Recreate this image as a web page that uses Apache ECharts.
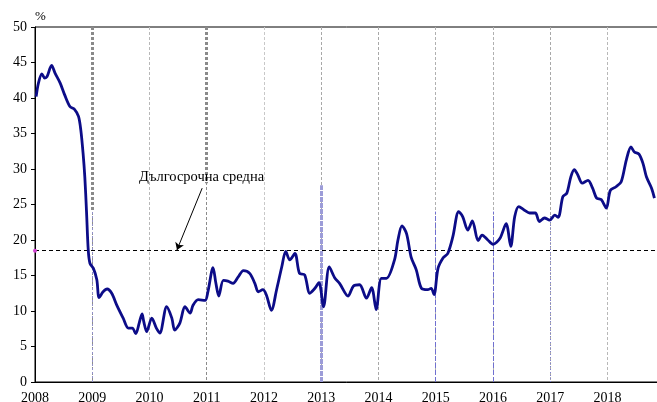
<!DOCTYPE html>
<html>
<head>
<meta charset="utf-8">
<script src="https://cdn.jsdelivr.net/npm/echarts@6/dist/echarts.min.js"></script>
<style>
  html, body { margin: 0; padding: 0; background: #fff; }
  #chart { width: 657px; height: 402px; }
</style>
</head>
<body>
<div id="chart"></div>
<script>
// време (дробна година) и стойност в %
const years = [
  2008.02, 2008.06, 2008.12, 2008.17, 2008.21, 2008.29, 2008.35, 2008.44, 2008.52, 2008.61,
  2008.69, 2008.76, 2008.80, 2008.84, 2008.87, 2008.90, 2008.93, 2008.96, 2009.02, 2009.08,
  2009.12, 2009.19, 2009.26, 2009.34, 2009.43, 2009.54, 2009.63, 2009.70, 2009.76, 2009.82,
  2009.87, 2009.90, 2009.95, 2010.04, 2010.12, 2010.18, 2010.30, 2010.39, 2010.44, 2010.53,
  2010.62, 2010.71, 2010.76, 2010.85, 2010.97, 2011.02, 2011.11, 2011.16, 2011.21, 2011.29,
  2011.37, 2011.46, 2011.55, 2011.64, 2011.75, 2011.84, 2011.90, 2011.98, 2012.04, 2012.13,
  2012.22, 2012.31, 2012.38, 2012.45, 2012.54, 2012.62, 2012.71, 2012.80, 2012.89, 2012.96,
  2013.04, 2013.14, 2013.24, 2013.32, 2013.47, 2013.56, 2013.67, 2013.79, 2013.88, 2013.96,
  2014.05, 2014.14, 2014.28, 2014.34, 2014.41, 2014.49, 2014.57, 2014.66, 2014.75, 2014.86,
  2014.92, 2014.97, 2015.04, 2015.13, 2015.21, 2015.30, 2015.40, 2015.47, 2015.56, 2015.64,
  2015.74, 2015.81, 2015.91, 2016.00, 2016.12, 2016.23, 2016.31, 2016.38, 2016.45, 2016.55,
  2016.64, 2016.74, 2016.81, 2016.90, 2016.99, 2017.08, 2017.14, 2017.22, 2017.29, 2017.36,
  2017.42, 2017.48, 2017.56, 2017.66, 2017.74, 2017.81, 2017.89, 2017.98, 2018.05, 2018.15,
  2018.24, 2018.33, 2018.41, 2018.47, 2018.55, 2018.62, 2018.68, 2018.77, 2018.82
];
const rates = [
  40.2, 42.1, 43.4, 42.8, 43.0, 44.6, 43.5, 42.1, 40.4, 38.8,
  38.4, 37.4, 35.5, 32.2, 28.9, 24.0, 18.6, 16.7, 16.0, 14.4,
  11.9, 12.7, 13.1, 12.5, 10.8, 9.0, 7.6, 7.6, 6.8, 8.3,
  9.6, 8.5, 7.1, 9.0, 7.6, 6.9, 10.6, 9.0, 7.3, 8.3,
  10.6, 9.7, 10.8, 11.6, 11.5, 12.7, 16.1, 13.9, 12.1, 14.3,
  14.2, 13.9, 14.8, 15.7, 15.3, 13.9, 12.7, 13.0, 12.3, 10.1,
  13.0, 16.2, 18.4, 17.2, 18.1, 15.3, 15.1, 12.5, 13.2, 14.0,
  10.6, 16.2, 14.6, 13.9, 12.1, 13.5, 13.7, 11.8, 13.3, 10.2,
  14.6, 14.6, 17.2, 20.0, 22.0, 20.9, 17.6, 15.8, 13.2, 13.0,
  13.2, 12.3, 16.0, 17.5, 18.1, 20.5, 24.0, 23.3, 21.4, 22.7,
  19.9, 20.7, 20.0, 19.4, 20.2, 22.3, 19.1, 23.3, 24.7, 24.2,
  23.8, 23.8, 22.6, 23.1, 22.8, 23.5, 23.2, 26.1, 26.6, 28.9,
  29.9, 29.2, 28.0, 28.4, 27.3, 25.9, 25.7, 24.5, 27.0, 27.5,
  28.2, 31.3, 33.1, 32.4, 32.1, 30.8, 28.9, 27.3, 25.9
];
const longTermAvg = 18.5;
const avgLabel = 'Дългосрочна средна';

const serif = 'Liberation Serif';
const chart = echarts.init(document.getElementById('chart'));

const option = {
  animation: false,
  grid: {
    left: 35, right: -2, top: 27, bottom: 20,
    outerBoundsMode: 'none',
    show: true, borderColor: '#000', borderWidth: 1
  },
  xAxis: {
    type: 'value',
    min: 2008, max: 2018.9, interval: 1,
    axisLine: { show: true, lineStyle: { color: '#000', width: 1 } },
    axisTick: { show: false },
    axisLabel: {
      color: '#000', fontFamily: serif, fontSize: 14, margin: 9,
      formatter: v => Number.isInteger(v) ? String(v) : ''
    },
    splitLine: {
      show: true,
      lineStyle: {
        type: [3, 2], width: 1,
        color: ['#000', '#8c8c8c', '#b8b8b8', '#8c8c8c', '#c8c8c8', '#a8a8a8',
                '#a8a8a8', '#b0b0b0', '#b0b0b0', '#a8a8a8', '#b8b8b8', 'rgba(0,0,0,0)']
      }
    }
  },
  yAxis: {
    type: 'value',
    min: 0, max: 50, interval: 5,
    name: '%', nameLocation: 'end', nameGap: 4,
    nameTextStyle: { color: '#000', fontFamily: serif, fontSize: 13, align: 'left' },
    axisLine: { show: true, lineStyle: { color: '#000', width: 1 } },
    axisTick: { show: true, inside: false, length: 4, lineStyle: { color: '#000' } },
    axisLabel: { color: '#000', fontFamily: serif, fontSize: 14, margin: 8 },
    splitLine: { show: false }
  },
  series: [
    {
      name: 'rate',
      type: 'line',
      data: years.map((y, i) => [y, rates[i]]),
      showSymbol: false,
      smooth: 0.3,
      lineStyle: { color: '#0c0c88', width: 2.8 },
      z: 5,
      markLine: {
        silent: true,
        symbol: ['none', 'none'],
        label: { show: false },
        lineStyle: { color: '#000', type: [4, 3], width: 1 },
        data: [{ yAxis: longTermAvg }]
      },
      markPoint: {
        silent: true,
        data: [{
          coord: [2008, longTermAvg], symbol: 'circle', symbolSize: 4,
          itemStyle: { color: '#d040d0' }, label: { show: false }
        }]
      }
    },
    {
      // акценти по годишните линии и анотация
      name: 'marks',
      type: 'line',
      data: [],
      markLine: {
        silent: true,
        symbol: ['none', 'none'],
        label: { show: false },
        data: [
          [{ coord: [2009, 50], lineStyle: { color: '#8a8a8a', width: 3, type: [3, 2] } }, { coord: [2009, 24] }],
          [{ coord: [2011, 50], lineStyle: { color: '#8a8a8a', width: 3, type: [3, 2] } }, { coord: [2011, 28] }],
          [{ coord: [2009, 0], lineStyle: { color: '#9090c8', width: 1, type: [2, 2] } }, { coord: [2009, 24] }],
          [{ coord: [2013, 0], lineStyle: { color: '#9c9cd8', width: 3, type: [5, 1] } }, { coord: [2013, 27.7] }],
          [{ coord: [2015, 0], lineStyle: { color: '#7070d0', width: 1, type: [5, 2] } }, { coord: [2015, 24] }],
          [{ coord: [2016, 0], lineStyle: { color: '#7070d0', width: 1, type: [5, 2] } }, { coord: [2016, 24] }],
          [{ coord: [2017, 0], lineStyle: { color: '#8080d0', width: 1, type: [1, 2] } }, { coord: [2017, 23.6] }],
          [{ coord: [2010.92, 27.3], symbol: 'none', lineStyle: { color: '#000', width: 1, type: 'solid' } },
           { coord: [2010.48, 18.6], symbol: 'arrow', symbolSize: 7 }]
        ]
      },
      markPoint: {
        silent: true,
        data: [{
          coord: [2010.91, 28.8], symbol: 'rect', symbolSize: 1,
          itemStyle: { color: 'rgba(0,0,0,0)' },
          label: {
            show: true, position: 'inside', formatter: avgLabel,
            color: '#000', fontFamily: serif, fontSize: 14.5
          }
        }]
      }
    }
  ]
};

chart.setOption(option);
</script>
</body>
</html>
